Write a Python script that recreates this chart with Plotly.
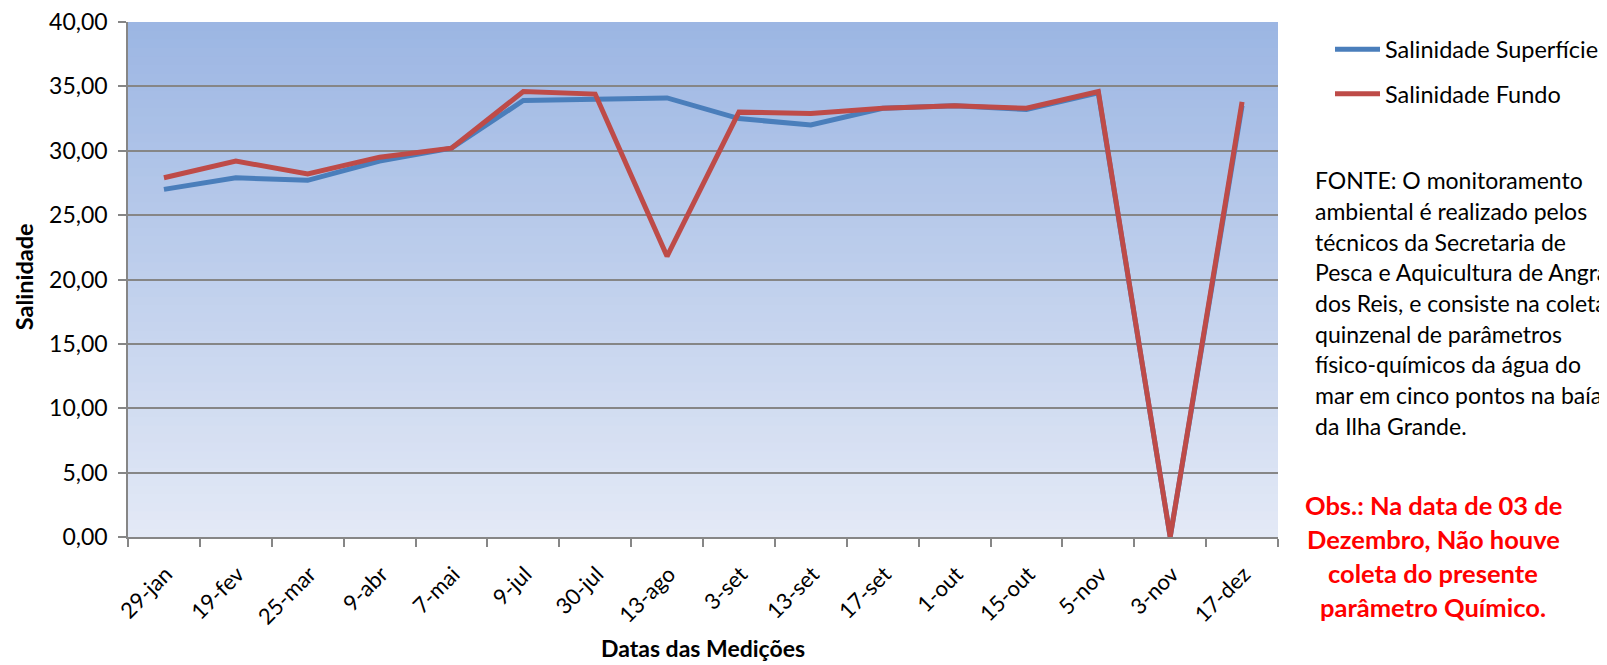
import plotly.graph_objects as go

datas = ["29-jan", "19-fev", "25-mar", "9-abr", "7-mai", "9-jul", "30-jul", "13-ago",
         "3-set", "13-set", "17-set", "1-out", "15-out", "5-nov", "3-nov", "17-dez"]
sal_superficie = [27.0, 27.9, 27.7, 29.2, 30.2, 33.9, 34.0, 34.1,
                  32.5, 32.0, 33.3, 33.5, 33.2, 34.5, 0.0, 33.5]
sal_fundo = [27.9, 29.2, 28.2, 29.5, 30.2, 34.6, 34.4, 21.8,
             33.0, 32.9, 33.3, 33.5, 33.3, 34.6, 0.0, 33.8]
y_ticks = [0, 5, 10, 15, 20, 25, 30, 35, 40]
y_tick_text = ["0,00", "5,00", "10,00", "15,00", "20,00", "25,00", "30,00", "35,00", "40,00"]
fonte_linhas = ["FONTE: O monitoramento", "ambiental é realizado pelos", "técnicos da Secretaria de",
                "Pesca e Aquicultura de Angra", "dos Reis, e consiste na coleta",
                "quinzenal de parâmetros", "físico-químicos da água do",
                "mar em cinco pontos na baía", "da Ilha Grande."]
obs_linhas = ["Obs.: Na data de 03 de", "Dezembro, Não houve", "coleta do presente",
              "parâmetro Químico."]

FONT = "Lato"
OFF = 8  # page body margin
W, H = 1607 - OFF, 665 - OFF
# plot area in page pixels
PL, PR, PT, PB = 128, 1278, 21.5, 537
L, R, T, B = PL - OFF, W - (PR - OFF), PT - OFF, H - (PB - OFF)
pw, ph = PR - PL, PB - PT

def px_x(page_x):
    return (page_x - PL) / pw

def px_y(page_y):
    return 1 - (page_y - PT) / ph

fig = go.Figure()
fig.add_trace(go.Scatter(x=datas, y=sal_superficie, mode="lines", name="Salinidade Superfície",
                         line=dict(color="#4A7EBB", width=5), legendgroup="a"))
fig.add_trace(go.Scatter(x=datas, y=sal_fundo, mode="lines", name="Salinidade Fundo",
                         line=dict(color="#BE4B48", width=5), legendgroup="b"))

# gradient plot background
top = (156, 182, 227)
bot = (227, 233, 246)
N = 60
shapes = []
for i in range(N):
    t = i / (N - 1)
    c = tuple(round(bot[k] + (top[k] - bot[k]) * t) for k in range(3))
    shapes.append(dict(type="rect", xref="x domain", yref="y domain", x0=0, x1=1,
                       y0=i / N, y1=min(1, (i + 1) / N + 0.002), fillcolor="rgb(%d,%d,%d)" % c,
                       line=dict(width=0), layer="below"))

annotations = []
for k, ln in enumerate(fonte_linhas):
    annotations.append(dict(text=ln, xref="paper", yref="paper", x=px_x(1313), y=px_y(180 + k * 30.7),
                            xanchor="left", yanchor="middle", align="left", showarrow=False,
                            font=dict(family=FONT, size=23, color="black")))
for k, ln in enumerate(obs_linhas):
    annotations.append(dict(text="<b>" + ln + "</b>", xref="paper", yref="paper", x=px_x(1433),
                            y=px_y(505 + k * 34), xanchor="center", yanchor="middle", showarrow=False,
                            font=dict(family=FONT, size=25.5, color="#FF0000")))
# y axis title
annotations.append(dict(text="<b>Salinidade</b>", xref="paper", yref="paper", x=px_x(24),
                        y=px_y(277), xanchor="center", yanchor="middle", textangle=-90,
                        showarrow=False, font=dict(family=FONT, size=23.5, color="black")))

fig.update_layout(
    width=W, height=H,
    margin=dict(l=L, r=R, t=T, b=B, autoexpand=False),
    paper_bgcolor="white", plot_bgcolor="rgba(0,0,0,0)",
    font=dict(family=FONT, size=22, color="black"),
    shapes=shapes, annotations=annotations,
    legend=dict(x=px_x(1330), y=px_y(27), xanchor="left", yanchor="top",
                font=dict(family=FONT, size=23.5), tracegroupgap=11, bgcolor="rgba(0,0,0,0)",
                itemwidth=45),
    xaxis=dict(type="category", range=[-0.5, len(datas) - 0.5], showgrid=False, showline=True,
               linecolor="#868686", linewidth=1.5,
               ticks="outside", ticklen=8, tickcolor="#868686", tickwidth=1.5, tickson="boundaries",
               tickangle=-45, tickfont=dict(family=FONT, size=22), ticklabelstandoff=14,
               ticklabelshift=2,
               title=dict(text="<b>Datas das Medições</b>", font=dict(family=FONT, size=23), standoff=12),
               automargin=False),
    yaxis=dict(range=[0, 40], tickvals=y_ticks, ticktext=y_tick_text, showgrid=True,
               gridcolor="#868686", gridwidth=1.5, showline=True, linecolor="#868686", linewidth=1.5,
               ticks="outside", ticklen=8, tickcolor="#868686", tickwidth=1.5, zeroline=False,
               tickfont=dict(family=FONT, size=23), ticklabelstandoff=6, ticklabeloverflow="allow",
               automargin=False),
)

fig.write_html("out.html")
